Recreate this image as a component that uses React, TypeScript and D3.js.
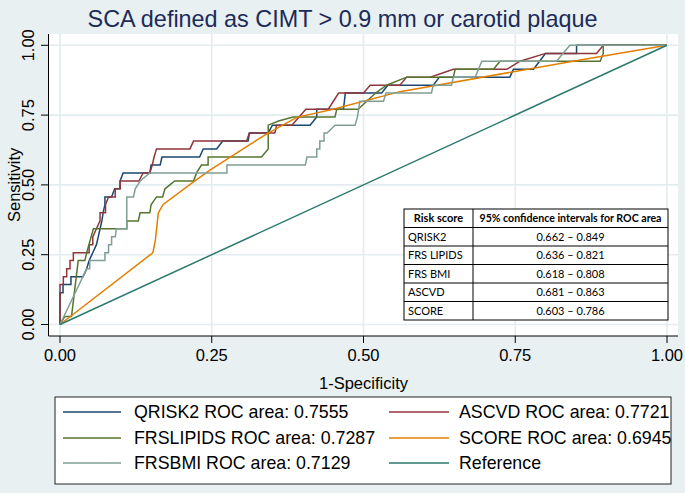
import React from "react";
import * as d3 from "d3";

type Pt = [number, number];

const titleText = "SCA defined as CIMT > 0.9 mm or carotid plaque";
const xTitle = "1-Specificity";
const yTitle = "Sensitivity";
const tickValues = [0, 0.25, 0.5, 0.75, 1];

const qrisk2: Pt[] = [[0,0],[0,0.114],[0.005,0.114],[0.005,0.143],[0.018,0.143],[0.018,0.171],[0.038,0.171],[0.044,0.2],[0.048,0.229],[0.054,0.257],[0.06,0.286],[0.063,0.314],[0.066,0.343],[0.069,0.371],[0.071,0.4],[0.074,0.429],[0.074,0.457],[0.085,0.457],[0.09,0.486],[0.099,0.486],[0.099,0.514],[0.104,0.543],[0.148,0.543],[0.15,0.571],[0.165,0.571],[0.168,0.6],[0.23,0.6],[0.236,0.629],[0.258,0.629],[0.268,0.657],[0.31,0.657],[0.312,0.686],[0.343,0.686],[0.35,0.714],[0.412,0.714],[0.423,0.743],[0.423,0.771],[0.467,0.771],[0.47,0.829],[0.53,0.829],[0.54,0.857],[0.615,0.857],[0.625,0.886],[0.741,0.886],[0.747,0.914],[0.78,0.914],[0.79,0.943],[0.8,0.971],[0.851,0.971],[0.851,1],[1,1]];

const ascvd: Pt[] = [[0,0],[0,0.143],[0.0055,0.143],[0.0055,0.171],[0.011,0.171],[0.011,0.2],[0.0165,0.2],[0.0165,0.229],[0.022,0.229],[0.022,0.257],[0.048,0.257],[0.048,0.286],[0.054,0.286],[0.054,0.314],[0.06,0.343],[0.066,0.371],[0.066,0.4],[0.075,0.4],[0.075,0.429],[0.08,0.457],[0.091,0.457],[0.091,0.486],[0.099,0.486],[0.099,0.514],[0.13,0.514],[0.137,0.543],[0.148,0.543],[0.152,0.571],[0.155,0.6],[0.159,0.629],[0.214,0.629],[0.22,0.657],[0.3075,0.657],[0.312,0.686],[0.354,0.686],[0.357,0.714],[0.382,0.714],[0.405,0.771],[0.442,0.771],[0.459,0.829],[0.5,0.829],[0.511,0.857],[0.56,0.857],[0.571,0.886],[0.61,0.886],[0.648,0.914],[0.736,0.914],[0.758,0.943],[0.8,0.971],[0.884,0.971],[0.895,1],[1,1]];

const frsLipids: Pt[] = [[0,0],[0.008,0.029],[0.019,0.029],[0.03,0.229],[0.041,0.229],[0.044,0.257],[0.055,0.343],[0.11,0.343],[0.11,0.371],[0.129,0.371],[0.132,0.4],[0.148,0.4],[0.15,0.429],[0.159,0.457],[0.169,0.457],[0.173,0.486],[0.189,0.514],[0.22,0.514],[0.225,0.543],[0.233,0.571],[0.244,0.571],[0.244,0.6],[0.332,0.6],[0.343,0.629],[0.343,0.714],[0.36,0.729],[0.384,0.743],[0.453,0.743],[0.456,0.771],[0.491,0.771],[0.52,0.829],[0.538,0.857],[0.571,0.886],[0.648,0.886],[0.651,0.914],[0.714,0.914],[0.725,0.943],[0.89,0.943],[0.895,0.971],[0.895,1],[1,1]];

const score: Pt[] = [[0,0],[0.153,0.257],[0.157,0.3],[0.162,0.4],[0.17,0.43],[0.22,0.511],[0.247,0.553],[0.34,0.682],[0.39,0.742],[0.45,0.771],[0.56,0.834],[0.857,0.947],[1,1]];

const frsBmi: Pt[] = [[0,0],[0.044,0.2],[0.049,0.2],[0.049,0.229],[0.074,0.229],[0.074,0.257],[0.08,0.257],[0.08,0.286],[0.085,0.286],[0.085,0.314],[0.091,0.314],[0.093,0.343],[0.11,0.343],[0.11,0.457],[0.121,0.457],[0.124,0.486],[0.132,0.514],[0.148,0.543],[0.275,0.543],[0.275,0.571],[0.404,0.571],[0.407,0.6],[0.423,0.6],[0.423,0.629],[0.428,0.629],[0.428,0.657],[0.435,0.657],[0.435,0.686],[0.44,0.686],[0.453,0.714],[0.486,0.714],[0.49,0.743],[0.494,0.8],[0.533,0.8],[0.537,0.829],[0.612,0.829],[0.615,0.857],[0.645,0.857],[0.648,0.886],[0.684,0.886],[0.695,0.943],[0.818,0.943],[0.84,1],[1,1]];

const reference: Pt[] = [[0,0],[1,1]];

const seriesNames = ["QRISK2 ROC area: 0.7555", "ASCVD ROC area: 0.7721", "FRSLIPIDS ROC area: 0.7287", "SCORE ROC area: 0.6945", "FRSBMI ROC area: 0.7129", "Reference"];
const seriesData = [qrisk2, ascvd, frsLipids, score, frsBmi, reference];
const seriesColors = ["#1a476f", "#90353b", "#55752f", "#e37e00", "#7f9f95", "#2b7a6c"];

const tableHeader = ["Risk score", "95% confidence intervals for ROC area"];
const tableScores = ["QRISK2", "FRS LIPIDS", "FRS BMI", "ASCVD", "SCORE"];
const tableCIs = ["0.662 \u2013 0.849", "0.636 \u2013 0.821", "0.618 \u2013 0.808", "0.681 \u2013 0.863", "0.603 \u2013 0.786"];

export default function App() {
  const W = 685, H = 493;
  const x = d3.scaleLinear().domain([0, 1]).range([60, 667]);
  const y = d3.scaleLinear().domain([0, 1]).range([324.5, 45.3]);
  const line = d3.line<Pt>().x(d => x(d[0])).y(d => y(d[1]));
  const font = "'Liberation Sans', Arial, Helvetica, sans-serif";
  const plot = { l: 48.5, t: 34, r: 678, b: 336 };
  const grid = "#e3ecef";

  const tb = { l: 404, r: 668, t: 209, b: 320, c: 473 };
  const rowH = (tb.b - tb.t) / 6;

  const lg = { l: 55, r: 671, t: 397, b: 484 };
  const rowYs = [412, 438, 463];
  const cols = [{ l1: 63, l2: 121, tx: 134 }, { l1: 389, l2: 449, tx: 459 }];

  return (
    <svg width={W} height={H} style={{ position: "absolute", left: 0, top: 0 }} fontFamily={font}>
      <rect x={0} y={0} width={W} height={H} fill="#e8f0f2" />
      <text x={342.5} y={27} textAnchor="middle" fontSize={23.4} fill="#1c2b58">{titleText}</text>
      <rect x={plot.l} y={plot.t} width={plot.r - plot.l} height={plot.b - plot.t} fill="#ffffff" />
      {tickValues.map(t => (
        <g key={"g" + t}>
          <line x1={x(t)} x2={x(t)} y1={plot.t} y2={plot.b} stroke={grid} strokeWidth={1.6} />
          <line x1={plot.l} x2={plot.r} y1={y(t)} y2={y(t)} stroke={grid} strokeWidth={1.6} />
        </g>
      ))}
      {seriesData.map((s, i) => (
        <path key={"s" + i} d={line(s) || ""} fill="none" stroke={seriesColors[i]} strokeWidth={1.5} strokeLinejoin="miter" />
      ))}
      <line x1={plot.l} x2={plot.l} y1={plot.t} y2={plot.b} stroke="#000" strokeWidth={1} />
      <line x1={plot.l} x2={plot.r} y1={plot.b} y2={plot.b} stroke="#000" strokeWidth={1} />
      {tickValues.map(t => (
        <g key={"t" + t}>
          <line x1={x(t)} x2={x(t)} y1={plot.b} y2={plot.b + 7} stroke="#000" strokeWidth={1} />
          <text x={x(t)} y={360.5} textAnchor="middle" fontSize={16.5} fill="#000">{d3.format(".2f")(t)}</text>
          <line x1={plot.l - 7.5} x2={plot.l} y1={y(t)} y2={y(t)} stroke="#000" strokeWidth={1} />
          <text transform={`translate(33.5,${y(t)}) rotate(-90)`} textAnchor="middle" fontSize={16.5} fill="#000">{d3.format(".2f")(t)}</text>
        </g>
      ))}
      <text x={(x(0) + x(1)) / 2} y={389} textAnchor="middle" fontSize={16.5} fill="#000">{xTitle}</text>
      <text transform={`translate(20,${(y(0) + y(1)) / 2}) rotate(-90)`} textAnchor="middle" fontSize={16.5} fill="#000">{yTitle}</text>

      <g fontFamily="Lato, 'Open Sans', sans-serif" fontSize={11} fill="#000">
        <rect x={tb.l} y={tb.t} width={tb.r - tb.l} height={tb.b - tb.t} fill="#fff" stroke="#000" strokeWidth={1} />
        <line x1={tb.c} x2={tb.c} y1={tb.t} y2={tb.b} stroke="#000" strokeWidth={1} />
        {d3.range(1, 6).map(k => (
          <line key={"r" + k} x1={tb.l} x2={tb.r} y1={tb.t + k * rowH} y2={tb.t + k * rowH} stroke="#000" strokeWidth={1} />
        ))}
        <text x={(tb.l + tb.c) / 2} y={tb.t + rowH / 2 + 4} textAnchor="middle" fontWeight="bold">{tableHeader[0]}</text>
        <text x={(tb.c + tb.r) / 2} y={tb.t + rowH / 2 + 4} textAnchor="middle" fontWeight="bold" textLength={182} lengthAdjust="spacingAndGlyphs">{tableHeader[1]}</text>
        {tableScores.map((s, i) => (
          <g key={"tr" + i}>
            <text x={tb.l + 4} y={tb.t + (i + 1) * rowH + rowH / 2 + 4}>{s}</text>
            <text x={(tb.c + tb.r) / 2} y={tb.t + (i + 1) * rowH + rowH / 2 + 4} textAnchor="middle">{tableCIs[i]}</text>
          </g>
        ))}
      </g>

      <rect x={lg.l} y={lg.t} width={lg.r - lg.l} height={lg.b - lg.t} fill="#fff" stroke="#222" strokeWidth={1} />
      {seriesNames.map((n, i) => {
        const c = cols[i % 2];
        const ry = rowYs[Math.floor(i / 2)];
        return (
          <g key={"l" + i}>
            <line x1={c.l1} x2={c.l2} y1={ry} y2={ry} stroke={seriesColors[i]} strokeWidth={1.5} />
            <text x={c.tx} y={ry + 6.3} fontSize={17.8} fill="#000">{n}</text>
          </g>
        );
      })}
    </svg>
  );
}
